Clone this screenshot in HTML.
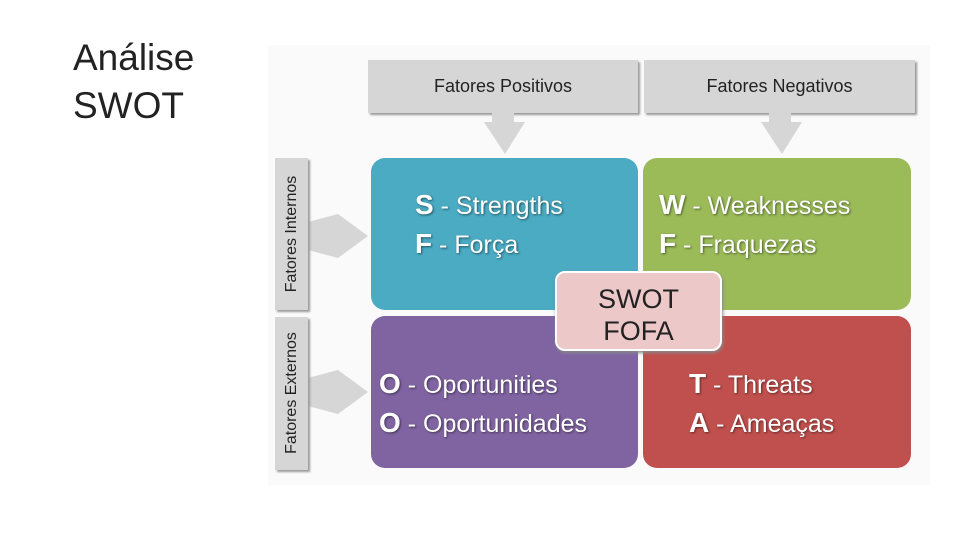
<!DOCTYPE html>
<html><head><style>
body{margin:0;width:960px;height:540px;background:#fff;position:relative;overflow:hidden;font-family:"Liberation Sans",sans-serif}
.a{position:absolute}
.title{left:73px;top:34px;font-size:37px;line-height:48px;color:#222;font-weight:300}
.g{background:#d6d6d6;box-shadow:2px 2px 2px #999;color:#222}
.q{border-radius:14px;color:#fff;font-size:25px;line-height:37px;text-shadow:1px 1px 2px rgba(0,0,0,.5)}
.q b{font-size:28px}
</style></head><body>
<div class="a title">Análise<br>SWOT</div>
<div class="a" style="left:268px;top:45px;width:662px;height:440px;background:#fafafa"></div>
<div class="a g" style="left:368px;top:60px;width:270px;height:53px;font-size:18px;line-height:53px;text-align:center">Fatores Positivos</div>
<div class="a g" style="left:644px;top:60px;width:271px;height:53px;font-size:18px;line-height:53px;text-align:center">Fatores Negativos</div>
<svg class="a" style="left:0;top:0" width="960" height="540">
<polygon points="492,113 514,113 514,122 525,122 505,154 484,122 492,122" fill="#d6d6d6"/>
<polygon points="769,113 791,113 791,122 802,122 782,154 761,122 769,122" fill="#d6d6d6"/>
<polygon points="308,222 338,214 368,236 338,258 308,250" fill="#d6d6d6"/>
<polygon points="308,378 338,370 368,392 338,414 308,406" fill="#d6d6d6"/>
</svg>
<div class="a g" style="left:275px;top:158px;width:33px;height:152px"><div class="a" style="left:-59px;top:62px;width:152px;height:28px;transform:rotate(-90deg);text-align:center;font-size:16px;line-height:28px">Fatores Internos</div></div>
<div class="a g" style="left:275px;top:317px;width:33px;height:153px"><div class="a" style="left:-59px;top:62px;width:152px;height:28px;transform:rotate(-90deg);text-align:center;font-size:16px;line-height:28px">Fatores Externos</div></div>
<div class="a q" style="left:371px;top:158px;width:267px;height:152px;background:#4aabc3"><div class="a" style="left:44px;top:28px"><b>S</b> - Strengths<br><b>F</b> - Força</div></div>
<div class="a q" style="left:643px;top:158px;width:268px;height:152px;background:#9bbb59"><div class="a" style="left:16px;top:28px"><b>W</b> - Weaknesses<br><b>F</b> - Fraquezas</div></div>
<div class="a q" style="left:371px;top:316px;width:267px;height:152px;background:#8064a2"><div class="a" style="left:8px;top:49px"><b>O</b> - Oportunities<br><b>O</b> - Oportunidades</div></div>
<div class="a q" style="left:643px;top:316px;width:268px;height:152px;background:#c0504d"><div class="a" style="left:46px;top:49px"><b>T</b> - Threats<br><b>A</b> - Ameaças</div></div>
<div class="a" style="left:555px;top:271px;width:167px;height:80px;background:#ecc8c8;border:2px solid #fff;border-radius:10px;box-shadow:1px 2px 3px #888;text-align:center;font-size:27px;line-height:32px;color:#222;padding-top:10px;box-sizing:border-box">SWOT<br>FOFA</div>
</body></html>
